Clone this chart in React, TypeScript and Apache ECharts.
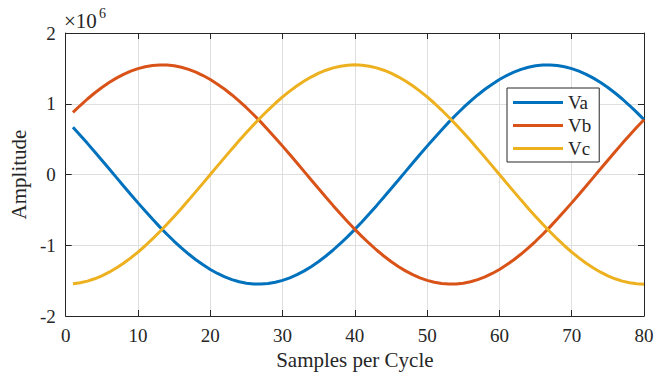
import React, { useEffect, useRef } from "react";
import * as echarts from "echarts";

const samples: number[] = Array.from({ length: 80 }, (_, i) => i + 1);

// values in units of 1e6
const va: number[] = [
  0.667, 0.555, 0.44, 0.322, 0.202, 0.081, -0.041, -0.162, -0.282, -0.401,
  -0.517, -0.63, -0.74, -0.844, -0.944, -1.037, -1.124, -1.205, -1.277, -1.342,
  -1.399, -1.447, -1.486, -1.516, -1.537, -1.548, -1.549, -1.542, -1.524, -1.497,
  -1.461, -1.416, -1.362, -1.3, -1.23, -1.152, -1.067, -0.975, -0.878, -0.775,
  -0.667, -0.555, -0.44, -0.322, -0.202, -0.081, 0.041, 0.162, 0.282, 0.401,
  0.517, 0.63, 0.74, 0.844, 0.944, 1.037, 1.124, 1.205, 1.277, 1.342,
  1.399, 1.447, 1.486, 1.516, 1.537, 1.548, 1.549, 1.542, 1.524, 1.497,
  1.461, 1.416, 1.362, 1.3, 1.23, 1.152, 1.067, 0.975, 0.878, 0.775,
];

const vb: number[] = [
  0.878, 0.975, 1.067, 1.152, 1.23, 1.3, 1.362, 1.416, 1.461, 1.497,
  1.524, 1.542, 1.549, 1.548, 1.537, 1.516, 1.486, 1.447, 1.399, 1.342,
  1.277, 1.205, 1.124, 1.037, 0.944, 0.844, 0.74, 0.63, 0.517, 0.401,
  0.282, 0.162, 0.041, -0.081, -0.202, -0.322, -0.44, -0.555, -0.667, -0.775,
  -0.878, -0.975, -1.067, -1.152, -1.23, -1.3, -1.362, -1.416, -1.461, -1.497,
  -1.524, -1.542, -1.549, -1.548, -1.537, -1.516, -1.486, -1.447, -1.399, -1.342,
  -1.277, -1.205, -1.124, -1.037, -0.944, -0.844, -0.74, -0.63, -0.517, -0.401,
  -0.282, -0.162, -0.041, 0.081, 0.202, 0.322, 0.44, 0.555, 0.667, 0.775,
];

const vc: number[] = [
  -1.545, -1.531, -1.507, -1.474, -1.432, -1.381, -1.322, -1.254, -1.179, -1.096,
  -1.007, -0.911, -0.81, -0.704, -0.593, -0.479, -0.362, -0.242, -0.122, 0,
  0.122, 0.242, 0.362, 0.479, 0.593, 0.704, 0.81, 0.911, 1.007, 1.096,
  1.179, 1.254, 1.322, 1.381, 1.432, 1.474, 1.507, 1.531, 1.545, 1.55,
  1.545, 1.531, 1.507, 1.474, 1.432, 1.381, 1.322, 1.254, 1.179, 1.096,
  1.007, 0.911, 0.81, 0.704, 0.593, 0.479, 0.362, 0.242, 0.122, 0,
  -0.122, -0.242, -0.362, -0.479, -0.593, -0.704, -0.81, -0.911, -1.007, -1.096,
  -1.179, -1.254, -1.322, -1.381, -1.432, -1.474, -1.507, -1.531, -1.545, -1.55,
];

const seriesNames = ["Va", "Vb", "Vc"];
const seriesColors = ["#0072BD", "#D95319", "#EDB120"];
const xTicks = { min: 0, max: 80, interval: 10 };
const yTicks = { min: -2, max: 2, interval: 1 };

const FONT = "'Liberation Serif', 'Times New Roman', serif";
const INK = "#262626";
const FS = 19;
const FS_TITLE = 21;

function axisCommon() {
  return {
    axisLine: { show: true, onZero: false, lineStyle: { color: INK, width: 1 } },
    axisTick: { show: true, inside: true, length: 6, lineStyle: { color: INK } },
  };
}

export default function App() {
  const ref = useRef<HTMLDivElement>(null);
  useEffect(() => {
    if (!ref.current) return;
    const chart = echarts.init(ref.current, null, { renderer: "svg" });
    const all = [va, vb, vc];
    const labelStyle = { show: true, color: INK, fontSize: FS, fontFamily: FONT, margin: 10 };
    const nameStyle = { color: INK, fontSize: FS_TITLE, fontFamily: FONT };
    chart.setOption({
      animation: false,
      backgroundColor: "#ffffff",
      textStyle: { fontFamily: FONT, fontSize: FS, color: INK },
      grid: { left: 64, right: 24, top: 33, bottom: 60, containLabel: false },
      xAxis: [
        {
          type: "value",
          min: xTicks.min,
          max: xTicks.max,
          interval: xTicks.interval,
          position: "bottom",
          ...axisCommon(),
          axisLabel: labelStyle,
          splitLine: { show: true, lineStyle: { color: "#dfdfdf", width: 1 } },
          name: "Samples per Cycle",
          nameLocation: "middle",
          nameGap: 28,
          nameTextStyle: nameStyle,
        },
        {
          type: "value",
          min: xTicks.min,
          max: xTicks.max,
          interval: xTicks.interval,
          position: "top",
          ...axisCommon(),
          axisLabel: { show: false },
          splitLine: { show: false },
        },
      ],
      yAxis: [
        {
          type: "value",
          min: yTicks.min,
          max: yTicks.max,
          interval: yTicks.interval,
          position: "left",
          ...axisCommon(),
          axisLabel: labelStyle,
          splitLine: { show: true, lineStyle: { color: "#dfdfdf", width: 1 } },
          name: "Amplitude",
          nameLocation: "middle",
          nameGap: 29,
          nameTextStyle: nameStyle,
        },
        {
          type: "value",
          min: yTicks.min,
          max: yTicks.max,
          interval: yTicks.interval,
          position: "right",
          ...axisCommon(),
          axisLabel: { show: false },
          splitLine: { show: false },
        },
      ],
      legend: {
        show: true,
        orient: "vertical",
        left: 507,
        top: 88,
        padding: [5, 8, 4, 6],
        itemGap: 4,
        itemWidth: 50,
        itemHeight: 3,
        icon: "rect",
        borderColor: INK,
        borderWidth: 1,
        borderRadius: 0,
        backgroundColor: "#ffffff",
        textStyle: { color: INK, fontSize: FS, fontFamily: FONT },
        data: seriesNames,
      },
      graphic: [
        {
          type: "text",
          left: 64,
          top: 10,
          style: { text: "×10", fontFamily: FONT, fontSize: 21, fill: INK },
        },
        {
          type: "text",
          left: 99,
          top: 6,
          style: { text: "6", fontFamily: FONT, fontSize: 14, fill: INK },
        },
      ],
      series: seriesNames.map((name, i) => ({
        name,
        type: "line",
        xAxisIndex: 0,
        yAxisIndex: 0,
        showSymbol: false,
        symbol: "none",
        lineStyle: { color: seriesColors[i], width: 3 },
        itemStyle: { color: seriesColors[i] },
        data: samples.map((x, j) => [x, all[i][j]]),
      })),
    });
    return () => chart.dispose();
  }, []);
  return (
    <div
      ref={ref}
      style={{ position: "fixed", left: 0, top: 0, width: 668, height: 376 }}
    />
  );
}
